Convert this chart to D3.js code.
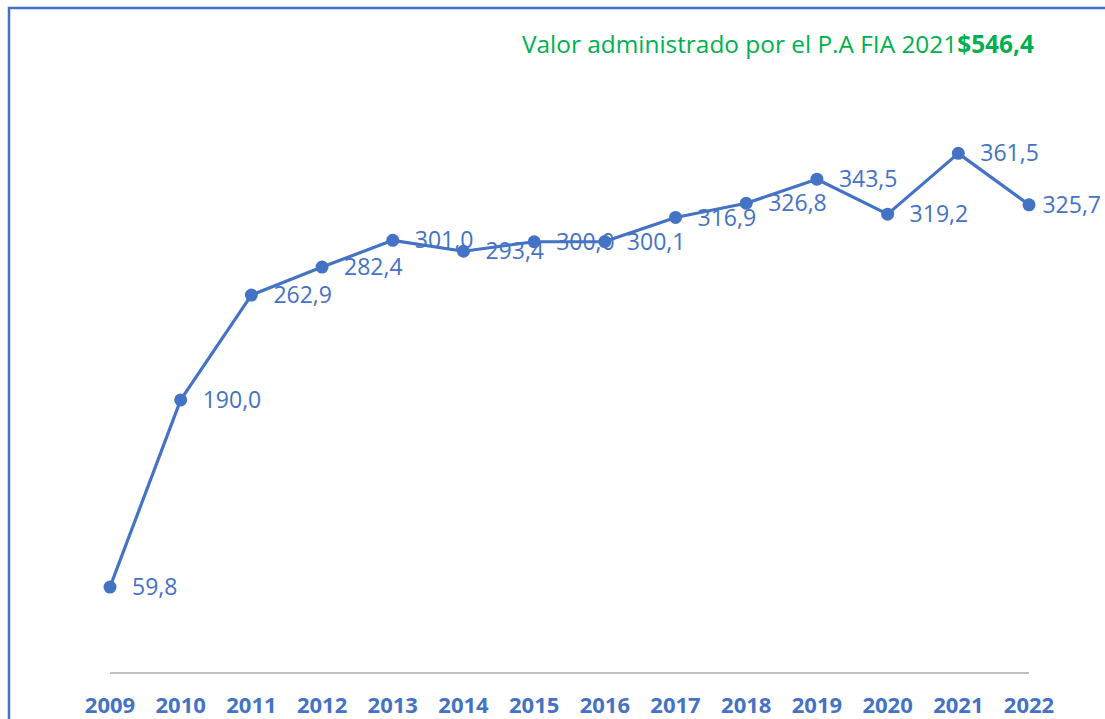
<!DOCTYPE html>
<html>
<head>
<meta charset="utf-8">
<script src="https://cdn.jsdelivr.net/npm/d3@7"></script>
<style>
  html, body { margin: 0; padding: 0; background: #fff; }
  svg { display: block; font-family: "Open Sans", "DejaVu Sans", sans-serif; }
</style>
</head>
<body>
<div id="chart"></div>
<script>
// data
const years = ["2009", "2010", "2011", "2012", "2013", "2014", "2015", "2016", "2017", "2018", "2019", "2020", "2021", "2022"]
const values = [59.8, 190.0, 262.9, 282.4, 301.0, 293.4, 300.0, 300.1, 316.9, 326.8, 343.5, 319.2, 361.5, 325.7]
const noteText = "Valor administrado por el P.A FIA 2021"
const noteValue = "$546,4"

const width = 1105
const height = 719
const blue = "#4472C4"

const svg = d3.select("#chart").append("svg")
    .attr("width", width)
    .attr("height", height)

// frame of the chart area (only top and left edges visible)
svg.append("path")
    .attr("d", `M9,${height} V8 H${width}`)
    .attr("fill", "none")
    .attr("stroke", blue)
    .attr("stroke-width", 2.5)

const x = d3.scalePoint()
    .domain(years)
    .range([110, 1029])

const y = d3.scaleLinear()
    .domain([0, 400])
    .range([673, 98])

// category axis: grey baseline, bold blue year labels
svg.append("line")
    .attr("x1", x(years[0]))
    .attr("x2", x(years[years.length - 1]))
    .attr("y1", y(0))
    .attr("y2", y(0))
    .attr("stroke", "#BFBFBF")
    .attr("stroke-width", 2)

svg.append("g")
  .selectAll("text")
  .data(years)
  .join("text")
    .attr("x", d => x(d))
    .attr("y", 713)
    .attr("text-anchor", "middle")
    .attr("fill", blue)
    .style("font-size", "22px")
    .style("font-weight", 700)
    .text(d => d)

const data = years.map((yr, i) => ({ year: yr, value: values[i] }))

const line = d3.line()
    .x(d => x(d.year))
    .y(d => y(d.value))

svg.append("path")
    .datum(data)
    .attr("d", line)
    .attr("fill", "none")
    .attr("stroke", blue)
    .attr("stroke-width", 3.2)
    .attr("stroke-linejoin", "round")

svg.append("g")
  .selectAll("circle")
  .data(data)
  .join("circle")
    .attr("cx", d => x(d.year))
    .attr("cy", d => y(d.value))
    .attr("r", 6.5)
    .attr("fill", blue)

const fmt = v => d3.format(".1f")(v).replace(".", ",")

// data labels to the right; pushed back inside the picture if they would overflow
svg.append("g")
  .selectAll("text")
  .data(data)
  .join("text")
    .attr("y", d => y(d.value))
    .attr("dy", "0.35em")
    .attr("fill", blue)
    .style("font-size", "23px")
    .text(d => fmt(d.value))
    .attr("x", function(d) {
      const w = this.getComputedTextLength()
      return Math.min(x(d.year) + 22, width - 4 - w)
    })

// green annotation
const note = svg.append("text")
    .attr("x", 522)
    .attr("y", 53)
    .attr("fill", "#00B050")
    .style("font-size", "24.4px")
note.append("tspan").text(noteText)
note.append("tspan").style("font-weight", 700).text(noteValue)
</script>
</body>
</html>
